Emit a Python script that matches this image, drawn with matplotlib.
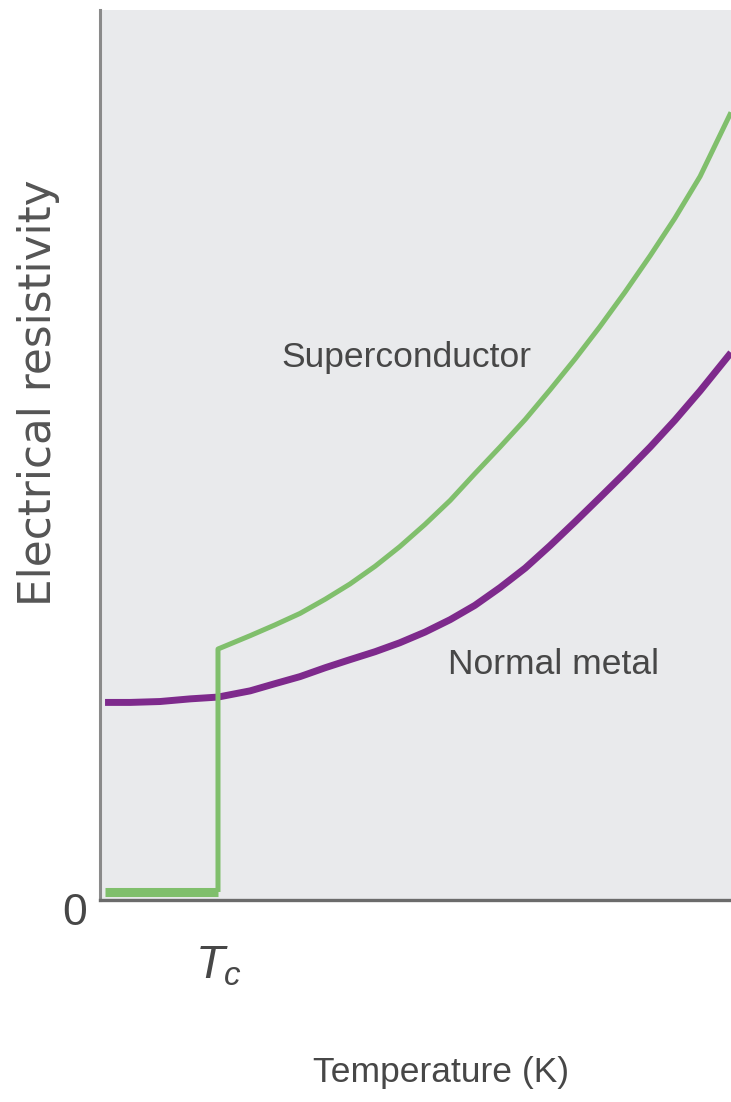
# coding=utf-8
# Resistivity vs temperature: superconductor and normal metal
#--------------------------------------------

import numpy as np
import matplotlib
matplotlib.use('Agg')
import matplotlib.pyplot as plt
import matplotlib.transforms as mtransforms

plt.rcParams['font.family'] = ['Liberation Sans', 'DejaVu Sans']
plt.rcParams['mathtext.fontset'] = 'custom'
plt.rcParams['mathtext.it'] = 'Liberation Sans:italic'
plt.rcParams['mathtext.rm'] = 'Liberation Sans'

# data (arbitrary units, axes 0..100)
Tc = 18.7
sc_low_T = [0.8, 18.7]
sc_low_R = [0.9, 0.9]
sc_T = [18.7, 18.7, 23.8, 27.7, 31.7, 35.7, 39.6, 43.6, 47.5, 51.5, 55.5,
        59.4, 63.4, 67.4, 71.3, 75.3, 79.2, 83.2, 87.2, 91.1, 95.1, 100.0]
sc_R = [0.9, 28.2, 29.7, 30.9, 32.2, 33.8, 35.5, 37.5, 39.7, 42.2, 44.9,
        47.9, 50.9, 54.0, 57.3, 60.8, 64.4, 68.3, 72.4, 76.6, 81.3, 88.5]
nm_T = [0.8, 4.8, 9.5, 14.3, 18.7, 23.8, 27.7, 31.7, 35.7, 39.6, 43.6, 47.5,
        51.5, 55.5, 59.4, 63.4, 67.4, 71.3, 75.3, 79.2, 83.2, 87.2, 91.1, 95.1, 100.0]
nm_R = [22.2, 22.2, 22.3, 22.6, 22.8, 23.5, 24.3, 25.1, 26.1, 27.0, 27.9, 28.9,
        30.1, 31.5, 33.1, 35.1, 37.3, 39.8, 42.5, 45.2, 48.0, 50.9, 53.9, 57.2, 61.5]

green  = '#80bf6c'
purple = '#7e2a8c'
txt    = '#474747'

fig = plt.figure(figsize=(7.31, 11.02), dpi=100)
ax = fig.add_axes([100/731, 202/1102, 631/731, 890/1102])
ax.set_facecolor('#e9eaec')

# curves
ax.plot(nm_T, nm_R, color=purple, lw=5, solid_capstyle='butt', solid_joinstyle='round')
ax.plot(sc_T, sc_R, color=green, lw=3.6, solid_capstyle='butt', solid_joinstyle='round')
ax.plot(sc_low_T, sc_low_R, color=green, lw=6.5, solid_capstyle='butt')

ax.set_xlim(0, 100)
ax.set_ylim(0, 100)

# spines
ax.spines['top'].set_visible(False)
ax.spines['right'].set_visible(False)
ax.spines['left'].set_color('#8a8a8a')
ax.spines['left'].set_linewidth(2.2)
ax.spines['bottom'].set_color('#6b6b6b')
ax.spines['bottom'].set_linewidth(2.4)

# ticks: only Tc and 0
ax.set_xticks([Tc])
ax.set_xticklabels([r'$T_c$'], fontsize=34, color=txt)
ax.set_yticks([0])
ax.set_yticklabels(['0'], fontsize=32, color=txt)
ax.tick_params(axis='x', length=0, pad=32)
ax.tick_params(axis='y', length=0, pad=9)
for lab in ax.get_yticklabels():
    lab.set_transform(lab.get_transform() + mtransforms.ScaledTranslation(0, -9/100, fig.dpi_scale_trans))

# labels
ax.set_xlabel('Temperature (K)', fontsize=25.5, color=txt)
ax.xaxis.set_label_coords(0.540, -0.175)
ax.set_ylabel('Electrical resistivity', fontsize=31.5, color='#555555', family=['DejaVu Sans'])
ax.yaxis.set_label_coords(-0.063, 0.570)

ax.text(48.5, 59.9, 'Superconductor', fontsize=25.5, color=txt, ha='center', va='baseline')
ax.text(71.8, 25.4, 'Normal metal', fontsize=25.5, color=txt, ha='center', va='baseline')

plt.savefig('out.png', dpi=100)
